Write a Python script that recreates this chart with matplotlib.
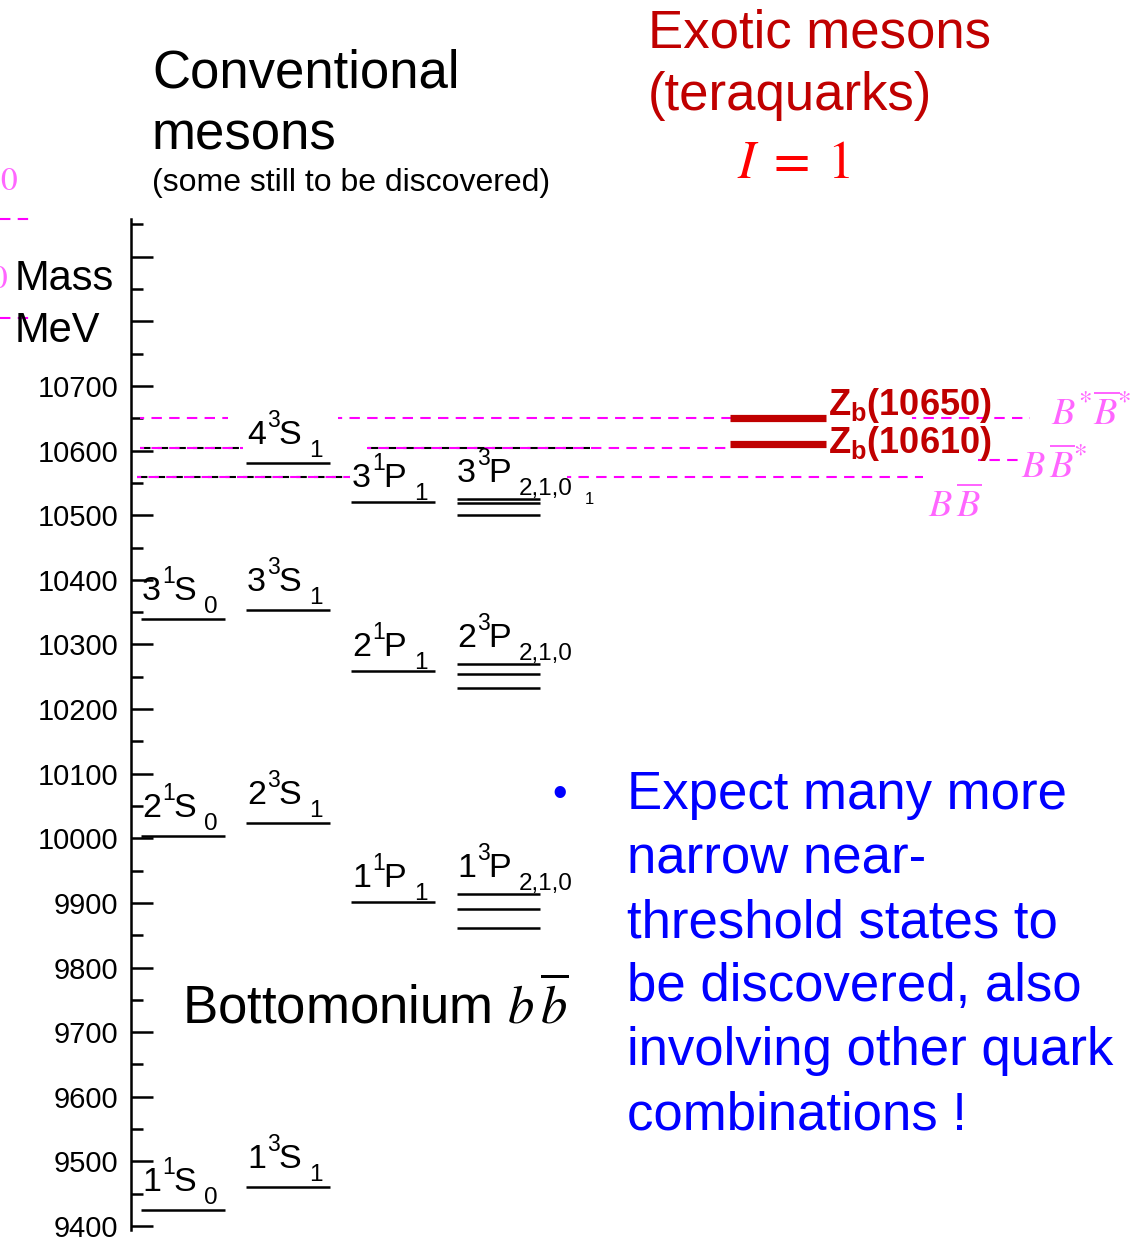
import matplotlib
matplotlib.use("Agg")
import matplotlib.pyplot as plt
import numpy as np
from matplotlib.lines import Line2D

plt.rcParams['font.family'] = ['Liberation Sans', 'DejaVu Sans']
plt.rcParams['mathtext.fontset'] = 'custom'
plt.rcParams['mathtext.rm'] = 'Liberation Sans'
plt.rcParams['mathtext.it'] = 'Liberation Sans:italic'
plt.rcParams['mathtext.bf'] = 'Liberation Sans:bold'

# bottomonium levels, MeV; labels are (n, 2S+1, L, J)
s_singlet_labels = [('1', '1', 'S', '0'), ('2', '1', 'S', '0'), ('3', '1', 'S', '0')]
s_singlet_mass = [9425, 10004, 10339]
s_triplet_labels = [('1', '3', 'S', '1'), ('2', '3', 'S', '1'),
                    ('3', '3', 'S', '1'), ('4', '3', 'S', '1')]
s_triplet_mass = [9460, 10023, 10354, 10581]
p_singlet_labels = [('1', '1', 'P', '1'), ('2', '1', 'P', '1'), ('3', '1', 'P', '1')]
p_singlet_mass = [9901, 10259, 10520]
p_triplet_labels = [('1', '3', 'P', '2,1,0'), ('2', '3', 'P', '2,1,0'),
                    ('3', '3', 'P', '2,1,0')]
p_triplet_mass = [[9914, 9891, 9861], [10269, 10255, 10232], [10525, 10519, 10501]]

# open-bottom thresholds, MeV
thr_names = [r'$B\,\overline{B}$', r'$B\,\overline{B}^{*}$', r'$B^{*}\overline{B}^{*}$']
thr_mass = [10559, 10604, 10650]

# exotic I=1 states
zb_names = ['10650', '10610']
zb_mass = [10650, 10610]

W, H = 1140, 1239
PX = 0.64615          # pixels per MeV
Y0_PX, Y0_M = 386, 10700


def fx(x):
    return x / W


def fy(y):
    return 1 - y / H


def mev(ypx):
    return Y0_M - (ypx - Y0_PX) / PX


fig = plt.figure(figsize=(W / 100, H / 100), dpi=100)
ax = fig.add_axes([fx(131), fy(1230), 1 - fx(131), (1230 - 219) / H])
ax.patch.set_visible(False)
ax.set_xlim(131, W)
ax.set_ylim(mev(1230), mev(219))
for s in ['top', 'right', 'bottom']:
    ax.spines[s].set_visible(False)
ax.spines['left'].set_linewidth(1.8)
ax.set_xticks([])
major = np.arange(9400, 10901, 100)
ax.set_yticks(major)
ax.set_yticklabels([str(v) if v <= 10700 else '' for v in major])
ax.set_yticks(np.arange(9450, 10951, 100), minor=True)
ax.tick_params(axis='y', which='major', direction='in', length=15.5, width=1.8,
               labelsize=21, pad=9)
ax.tick_params(axis='y', which='minor', direction='in', length=8.6, width=1.8)


def level_label(x, m, lab, base):
    # n, multiplicity superscript, L letter, J subscript; offsets in pixels
    n, mult, L, J = lab
    kw = dict(xycoords='data', textcoords='offset pixels', va='baseline', ha='left')
    ax.annotate(n, (x, m), xytext=(0, base), fontsize=24.5, **kw)
    ax.annotate(mult, (x, m), xytext=(20, base + 17), fontsize=16.5, **kw)
    ax.annotate(L, (x, m), xytext=(31, base), fontsize=24.5, **kw)
    ax.annotate(J, (x, m), xytext=(62, base - 13), fontsize=17.5, **kw)


cols = [(141, 225), (246, 330), (351, 435), (457, 540)]
lvl = dict(color='black', lw=1.8)

for labs, masses, (x0, x1), base in [(s_singlet_labels, s_singlet_mass, cols[0], 19),
                                      (s_triplet_labels, s_triplet_mass, cols[1], 19),
                                      (p_singlet_labels, p_singlet_mass, cols[2], 15)]:
    ax.hlines(masses, x0, x1, **lvl)
    for lab, m in zip(labs, masses):
        level_label(x0 + 1, m, lab, base)

x0, x1 = cols[3]
for lab, ms in zip(p_triplet_labels, p_triplet_mass):
    ax.hlines(ms, x0, x1, **lvl)
    level_label(x0, max(ms), lab, 17)
ax.text(585, thr_mass[0] - 30 / PX, '1', fontsize=12, va='bottom')

# thresholds: black dashes from the level scheme, magenta from the thresholds
dash = dict(lw=1.5, linestyles=(0, (5, 3.5)))
ax.hlines(thr_mass[1], 140, 243, color='black', **dash)
ax.hlines(thr_mass[1], 368, 590, color='black', **dash)
ax.hlines(thr_mass[0], 137, 350, color='black', **dash)

mag = dict(color='#FF00FF', lw=1.5, linestyles=(3, (5, 3.5)))
ax.hlines(thr_mass[2], 140, 228, **mag)
ax.hlines(thr_mass[2], 338, 750, **mag)
ax.hlines(thr_mass[2], 912, 1030, **mag)
ax.hlines(thr_mass[1], 140, 243, **mag)
ax.hlines(thr_mass[1], 367, 730, **mag)
ax.hlines(thr_mass[1] - 12 / PX, 978, 1022, **mag)
ax.hlines(thr_mass[0], 137, 350, **mag)
ax.hlines(thr_mass[0], 567, 923, **mag)

thr_lab = [(928, thr_mass[0] - 40 / PX), (1021, thr_mass[1] - 30 / PX),
           (1051, thr_mass[2] - 7 / PX)]
for n, (x, y) in zip(thr_names, thr_lab):
    ax.text(x, y, n, fontsize=27.5, color='#FF66FF', math_fontfamily='stix',
            va='baseline', ha='left')

# Zb states
ax.hlines(zb_mass, 730, 826, color='#C00000', lw=5.2)
zb_lab_off = [3, -9]   # px above the line
for n, m, off in zip(zb_names, zb_mass, zb_lab_off):
    ax.text(828, m + off / PX, r'Z$_\mathbf{b}$(' + n + ')', fontsize=26,
            fontweight='bold', color='#C00000', va='baseline', ha='left')

# titles and notes
fig.text(fx(152), fy(88), 'Conventional', fontsize=38, va='baseline')
fig.text(fx(152), fy(150), 'mesons', fontsize=38, va='baseline')
fig.text(fx(152), fy(191), '(some still to be discovered)', fontsize=23, va='baseline')
fig.text(fx(648), fy(48), 'Exotic mesons', fontsize=38, color='#C00000', va='baseline')
fig.text(fx(648), fy(110), '(teraquarks)', fontsize=38, color='#C00000', va='baseline')
fig.text(fx(737), fy(178), r'$I\;=\;1$', fontsize=38, color='#FF0000',
         math_fontfamily='stix', va='baseline')
fig.text(fx(15), fy(290), 'Mass', fontsize=30, va='baseline')
fig.text(fx(15), fy(342), 'MeV', fontsize=30, va='baseline')
fig.text(fx(182), fy(1023), r'Bottomonium $b\,\overline{b}$', fontsize=38,
         math_fontfamily='stix', va='baseline')

# pieces of a neighbouring scheme cut at the left edge
fig.text(fx(18), fy(190), r'$0$', fontsize=24, color='#FF66FF',
         math_fontfamily='stix', ha='right', va='baseline')
fig.text(fx(8), fy(288), r'$0$', fontsize=24, color='#FF66FF',
         math_fontfamily='stix', ha='right', va='baseline')
for yp in [219, 318]:
    fig.add_artist(Line2D([0, fx(35)], [fy(yp), fy(yp)], color='#FF00FF', lw=1.5,
                          ls=(0, (5, 3.5)), transform=fig.transFigure))

note = ['Expect many more', 'narrow near-', 'threshold states to',
        'be discovered, also', 'involving other quark', 'combinations !']
fig.text(fx(552), fy(806), '\u2022', fontsize=30, color='#0000FF', va='baseline')
for i, line in enumerate(note):
    fig.text(fx(627), fy(809 + 64 * i), line, fontsize=38, color='#0000FF',
             va='baseline')

fig.savefig('out.png', dpi=100)
